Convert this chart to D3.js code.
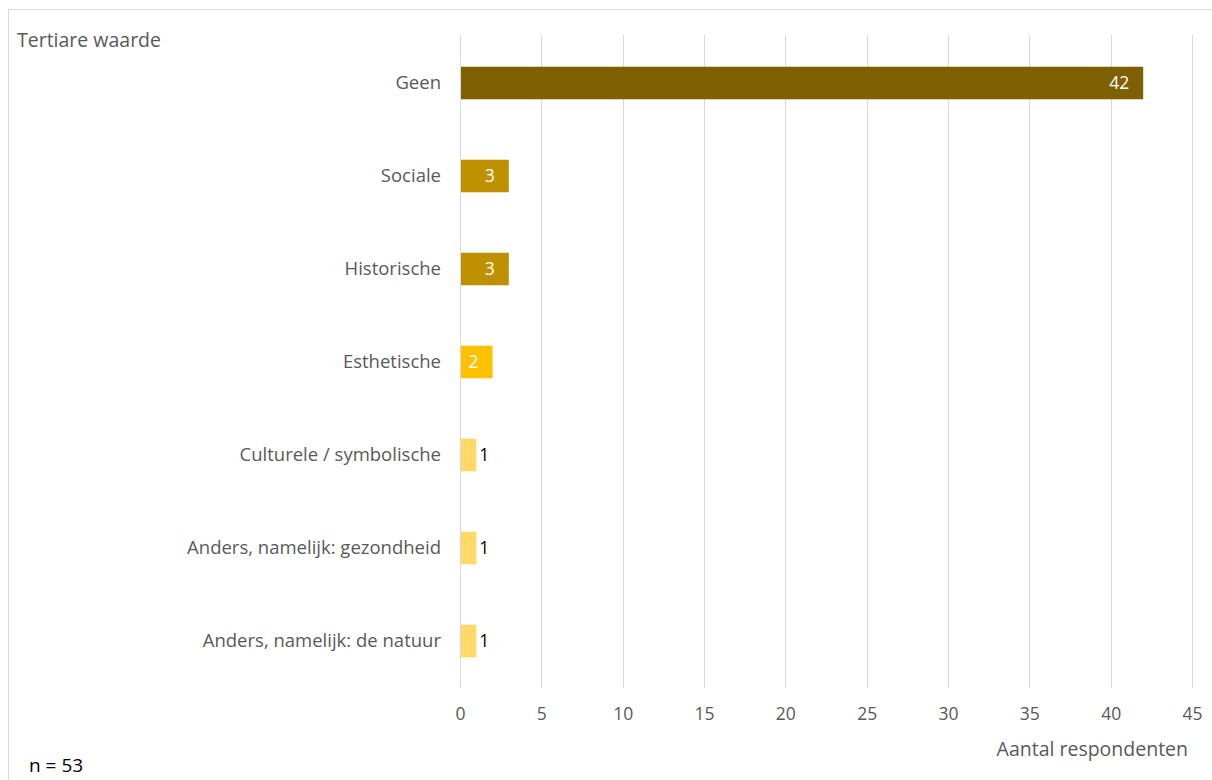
<!DOCTYPE html>
<html><head><meta charset="utf-8">
<script src="https://cdn.jsdelivr.net/npm/d3@7"></script>
<style>body{margin:0;background:#fff;}svg{display:block;font-family:"Open Sans",sans-serif;}</style>
</head><body><svg id="c" width="1212" height="780"></svg>
<script>
const categories = ["Geen","Sociale","Historische","Esthetische","Culturele / symbolische","Anders, namelijk: gezondheid","Anders, namelijk: de natuur"];
const values = [42,3,3,2,1,1,1];
const colors = ["#7F6000","#BF9000","#BF9000","#FFC000","#FFD966","#FFD966","#FFD966"];
const labelInside = [true,true,true,true,false,false,false];
const xTicks = [0,5,10,15,20,25,30,35,40,45];

const svg = d3.select("#c");
const grey = "#595959";
const font = "'Open Sans', sans-serif";
svg.append("path").attr("d","M8.5,790 V9.5 H1220").attr("fill","none").attr("stroke","#d9d9d9").attr("stroke-width",1);

const x = d3.scaleLinear().domain([0,45]).range([460,1192]);
const y = d3.scaleBand().domain(categories).range([36.5,687.5]).paddingInner(0.65).paddingOuter(0.325);

svg.append("g").selectAll("line").data(xTicks).join("line")
  .attr("x1",d=>Math.round(x(d))+0.5).attr("x2",d=>Math.round(x(d))+0.5)
  .attr("y1",35).attr("y2",688).attr("stroke","#d9d9d9").attr("stroke-width",1);

const xa = svg.append("g").attr("transform","translate(0,720)").call(d3.axisBottom(x).tickValues(xTicks).tickSize(0).tickPadding(0));
xa.select(".domain").remove();
xa.selectAll("text").attr("fill",grey).attr("font-size",17.5).attr("font-family",font).attr("dy",0).attr("y",0);

const ya = svg.append("g").attr("transform","translate(441,0)").call(d3.axisLeft(y).tickSize(0).tickPadding(0));
ya.select(".domain").remove();
ya.selectAll("text").attr("fill",grey).attr("font-size",18.5).attr("font-family",font).attr("x",0).attr("dy","0.3em");

svg.append("g").selectAll("rect").data(values).join("rect")
  .attr("x",x(0)+1).attr("y",(d,i)=>y(categories[i]))
  .attr("width",d=>x(d)-x(0)-1).attr("height",y.bandwidth())
  .attr("fill",(d,i)=>colors[i]);

svg.append("g").selectAll("text").data(values).join("text")
  .attr("x",(d,i)=>labelInside[i] ? x(d)-14 : x(d)+3)
  .attr("y",(d,i)=>y(categories[i])+y.bandwidth()/2)
  .attr("dy","0.35em")
  .attr("text-anchor",(d,i)=>labelInside[i]?"end":"start")
  .attr("fill",(d,i)=>labelInside[i]?"#ffffff":"#000000")
  .attr("font-size",17.5)
  .text(d=>d);

svg.append("text").attr("x",17).attr("y",47).attr("fill",grey).attr("font-size",19.5).text("Tertiare waarde");
svg.append("text").attr("x",1188).attr("y",756).attr("text-anchor","end").attr("fill",grey).attr("font-size",19.5).text("Aantal respondenten");
svg.append("text").attr("x",29).attr("y",772).attr("fill","#000").attr("font-size",19).text("n = 53");
</script></body></html>
